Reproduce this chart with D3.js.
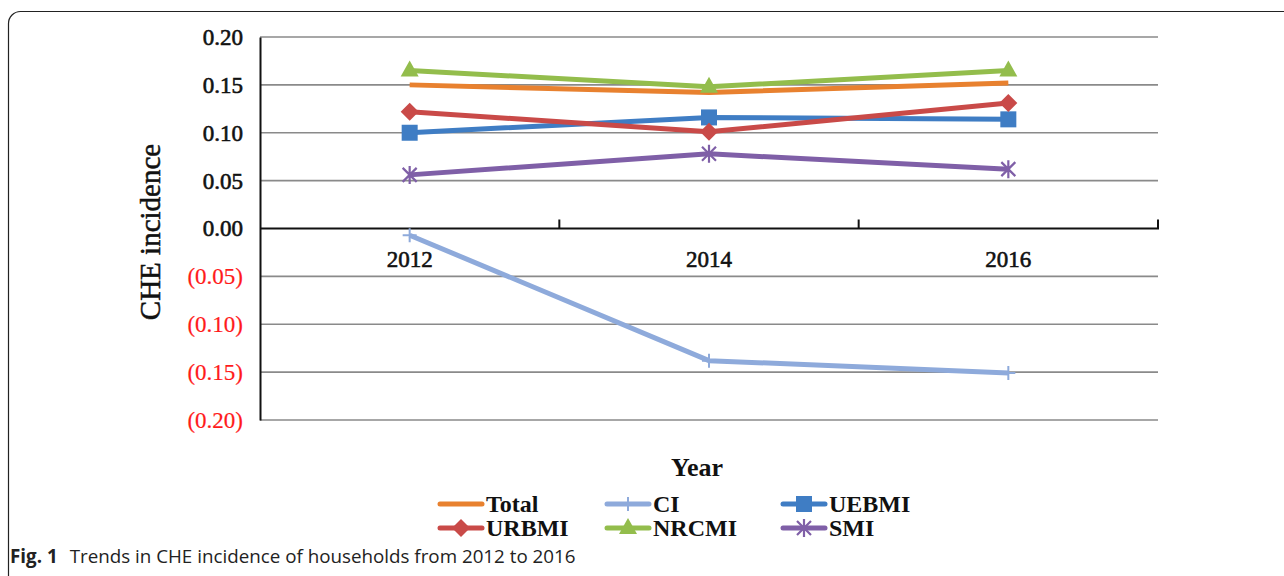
<!DOCTYPE html>
<html>
<head>
<meta charset="utf-8">
<script src="https://cdn.jsdelivr.net/npm/d3@7"></script>
<style>
    body { margin: 0; background: #fff; }
    svg { display: block; }
</style>
</head>
<body>
<div id="chart_div"></div>
<script>
// chart data
const years = ["2012", "2014", "2016"];
const seriesNames = ["Total", "CI", "UEBMI", "URBMI", "NRCMI", "SMI"];
const totalValues = [0.150, 0.142, 0.152];
const ciValues = [-0.007, -0.138, -0.151];
const uebmiValues = [0.100, 0.116, 0.114];
const urbmiValues = [0.122, 0.101, 0.131];
const nrcmiValues = [0.165, 0.148, 0.165];
const smiValues = [0.056, 0.078, 0.062];
const yTicks = [-0.20, -0.15, -0.10, -0.05, 0.00, 0.05, 0.10, 0.15, 0.20];

const seriesColors = {
    "Total": "#e8812f",
    "CI": "#8eaadb",
    "UEBMI": "#3f7dc4",
    "URBMI": "#c94a48",
    "NRCMI": "#93bd4c",
    "SMI": "#7f5fa7"
};
const seriesMarkers = {
    "Total": null,
    "CI": "plus",
    "UEBMI": "square",
    "URBMI": "diamond",
    "NRCMI": "triangle",
    "SMI": "star"
};

const serif = "'Liberation Serif', 'Times New Roman', serif";

function show_line_chart(div_container) {
    const width = 1284, height = 576;
    const svg = d3.select("#" + div_container)
        .append("svg")
        .attr("width", width)
        .attr("height", height);

    // figure frame (runs off the right and bottom edge)
    svg.append("rect")
        .attr("x", 8.5).attr("y", 11.5)
        .attr("width", 1400).attr("height", 600)
        .attr("rx", 12)
        .attr("fill", "none")
        .attr("stroke", "#222")
        .attr("stroke-width", 1.2);

    const x = d3.scaleBand().domain(years).range([260, 1158]);
    const y = d3.scaleLinear().domain([-0.2, 0.2]).range([420, 37]);

    // gridlines
    svg.append("g")
        .selectAll("line")
        .data(yTicks.filter(d => d !== 0))
        .join("line")
        .attr("x1", 260).attr("x2", 1158)
        .attr("y1", d => y(d)).attr("y2", d => y(d))
        .attr("stroke", "#8a8a8a")
        .attr("stroke-width", 1.6);

    // y axis
    const yAxis = svg.append("g")
        .attr("transform", "translate(260,0)")
        .call(d3.axisLeft(y).tickValues(yTicks).tickSize(0).tickPadding(17)
            .tickFormat(d => {
                const s = d3.format(".2f")(Math.abs(d));
                return d < 0 ? "(" + s + ")" : s;
            }));
    yAxis.select(".domain").attr("stroke", "#111").attr("stroke-width", 2);
    yAxis.selectAll("text")
        .attr("font-family", serif)
        .attr("font-size", 23)
        .attr("fill", d => d < 0 ? "#ff1a1a" : "#111")
        .attr("stroke", d => d < 0 ? "#ff1a1a" : "#111")
        .attr("stroke-width", d => d < 0 ? 0.2 : 0.6);

    // x axis on zero line, ticks point up between categories
    const xAxisLine = svg.append("g").attr("transform", `translate(0,${y(0)})`);
    xAxisLine.append("line")
        .attr("x1", 260).attr("x2", 1159)
        .attr("stroke", "#111").attr("stroke-width", 2.2);
    xAxisLine.selectAll(".xtick")
        .data(years)
        .join("line")
        .attr("class", "xtick")
        .attr("x1", d => x(d) + x.bandwidth()).attr("x2", d => x(d) + x.bandwidth())
        .attr("y1", 0).attr("y2", -9)
        .attr("stroke", "#111").attr("stroke-width", 2);
    xAxisLine.selectAll(".xlabel")
        .data(years)
        .join("text")
        .attr("class", "xlabel")
        .attr("x", d => x(d) + x.bandwidth() / 2)
        .attr("y", 38)
        .attr("text-anchor", "middle")
        .attr("font-family", serif)
        .attr("font-size", 23)
        .attr("fill", "#111")
        .attr("stroke", "#111")
        .attr("stroke-width", 0.6)
        .text(d => d);

    // axis titles
    svg.append("text")
        .attr("transform", "translate(160,232) rotate(-90)")
        .attr("text-anchor", "middle")
        .attr("font-family", serif)
        .attr("font-size", 29)
        .attr("fill", "#111")
        .attr("stroke", "#111")
        .attr("stroke-width", 0.5)
        .text("CHE incidence");
    svg.append("text")
        .attr("x", 697).attr("y", 476)
        .attr("text-anchor", "middle")
        .attr("font-family", serif)
        .attr("font-weight", "bold")
        .attr("font-size", 26)
        .attr("fill", "#111")
        .text("Year");

    const seriesValues = {
        "Total": totalValues, "CI": ciValues, "UEBMI": uebmiValues,
        "URBMI": urbmiValues, "NRCMI": nrcmiValues, "SMI": smiValues
    };
    const drawOrder = ["CI", "SMI", "UEBMI", "URBMI", "Total", "NRCMI"];

    const line = d3.line()
        .x((d, i) => x(years[i]) + x.bandwidth() / 2)
        .y(d => y(d));

    drawOrder.forEach(name => {
        const values = seriesValues[name];
        svg.append("path")
            .datum(values)
            .attr("d", line)
            .attr("fill", "none")
            .attr("stroke", seriesColors[name])
            .attr("stroke-width", 5)
            .attr("stroke-linejoin", "round");
        values.forEach((v, i) => {
            draw_marker(svg, seriesMarkers[name], x(years[i]) + x.bandwidth() / 2, y(v), seriesColors[name]);
        });
    });

    // legend
    const legendCols = [440, 607, 783];
    const legendRows = [504, 528];
    seriesNames.forEach((name, i) => {
        const lx = legendCols[i % 3];
        const ly = legendRows[Math.floor(i / 3)];
        const g = svg.append("g");
        g.append("line")
            .attr("x1", lx).attr("x2", lx + 42)
            .attr("y1", ly).attr("y2", ly)
            .attr("stroke", seriesColors[name])
            .attr("stroke-width", 5)
            .attr("stroke-linecap", "round");
        draw_marker(g, seriesMarkers[name], lx + 21, ly, seriesColors[name]);
        g.append("text")
            .attr("x", lx + 46).attr("y", ly + 8)
            .attr("font-family", serif)
            .attr("font-weight", "bold")
            .attr("font-size", 24)
            .attr("fill", "#111")
            .text(name);
    });

    // caption
    const cap = svg.append("text")
        .attr("x", 10).attr("y", 563)
        .attr("font-family", "'Open Sans', 'Noto Sans', sans-serif")
        .attr("font-size", 18.8)
        .attr("fill", "#222");
    cap.append("tspan").attr("font-weight", "bold").text("Fig. 1");
    cap.append("tspan").attr("dx", 12).text("Trends in CHE incidence of households from 2012 to 2016");
}

function draw_marker(parent, type, cx, cy, color) {
    if (!type) return;
    const g = parent.append("g").attr("transform", `translate(${cx},${cy})`);
    if (type === "square") {
        g.append("rect").attr("x", -8).attr("y", -8).attr("width", 16).attr("height", 16)
            .attr("fill", color);
    } else if (type === "diamond") {
        g.append("path").attr("d", "M0,-9L9,0L0,9L-9,0Z").attr("fill", color);
    } else if (type === "triangle") {
        g.append("path").attr("d", "M0,-10L9,6L-9,6Z").attr("fill", color);
    } else if (type === "plus") {
        g.append("path").attr("d", "M-7,0H7M0,-7V7")
            .attr("stroke", color).attr("stroke-width", 2);
    } else if (type === "star") {
        g.append("path").attr("d", "M-7,-7L7,7M-7,7L7,-7M0,-9V9")
            .attr("stroke", color).attr("stroke-width", 2.2);
    }
}

show_line_chart("chart_div");
</script>
</body>
</html>
